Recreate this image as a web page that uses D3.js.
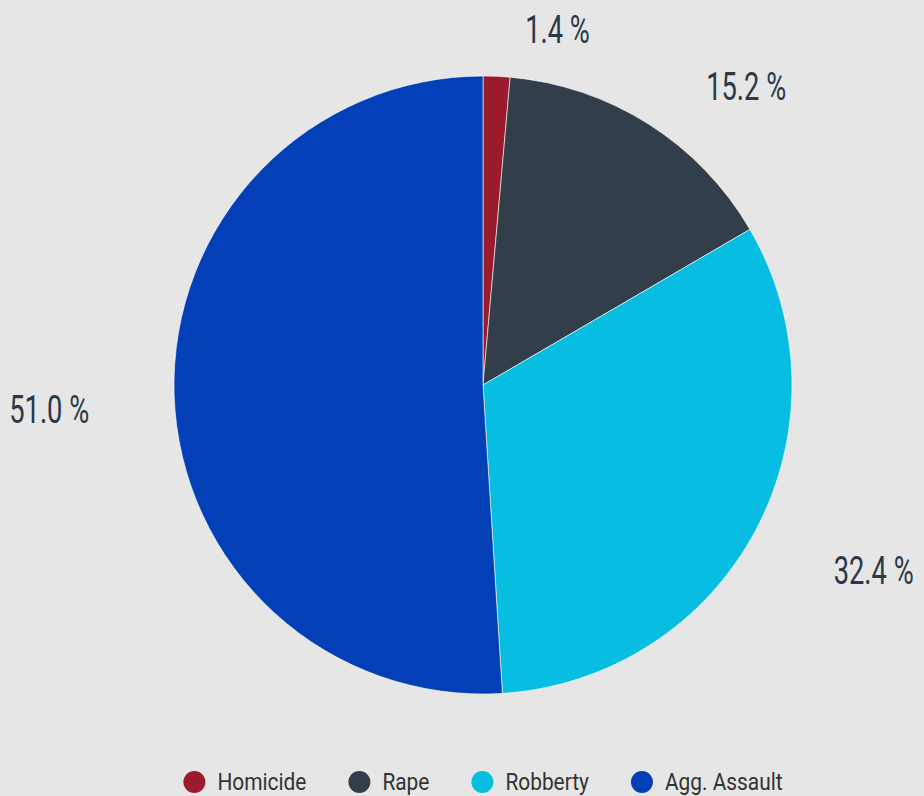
<!DOCTYPE html>
<html>
<head>
<meta charset="utf-8">
<script src="https://cdn.jsdelivr.net/npm/d3@7"></script>
<style>
  html, body { margin: 0; padding: 0; background: #e6e6e6; }
  svg { display: block; }
</style>
</head>
<body>
<svg id="chart" width="924" height="796"></svg>
<script>
const categories = ["Homicide", "Rape", "Robberty", "Agg. Assault"];
const values = [1.4, 15.2, 32.4, 51.0];
const colors = ["#9b1a2b", "#323e49", "#07bee2", "#033fb7"];

const W = 924, H = 796;
const cx = 483, cy = 385, R = 309;
const svg = d3.select("#chart");
svg.append("rect").attr("width", W).attr("height", H).attr("fill", "#e6e6e6");

const data = categories.map((c, i) => ({ name: c, value: values[i], color: colors[i] }));
const pie = d3.pie().value(d => d.value).sort(null);
const arcs = pie(data);
const arc = d3.arc().innerRadius(0).outerRadius(R);
const labelArc = d3.arc().innerRadius(368).outerRadius(368);

const g = svg.append("g").attr("transform", `translate(${cx},${cy})`);
g.selectAll("path").data(arcs).join("path")
  .attr("d", arc)
  .attr("fill", d => d.data.color)
  .attr("stroke", "#ffffff")
  .attr("stroke-width", 0.6)
  .attr("stroke-linejoin", "round");

// labels
arcs.forEach(a => {
  const [x, y] = labelArc.centroid(a);
  const mid = (a.startAngle + a.endAngle) / 2;
  const right = Math.sin(mid) >= 0;
  const lx = x + (right ? 26 : -26);
  const lg = g.append("g").attr("transform", `translate(${lx},${y + 26}) scale(0.7,1)`);
  lg.append("text")
    .attr("text-anchor", right ? "start" : "end")
    .attr("font-family", "Roboto, sans-serif")
    .attr("font-size", 39)
    .attr("font-weight", 400)
    .attr("fill", "#2b3946")
    .text(d3.format(".1f")(a.data.value) + " %");
});

// legend
const legend = svg.append("g");
const sx = 0.87, markerR = 11, gapText = 12, gapItem = 42;
const items = [];
let xPos = 0;
data.forEach(d => {
  const it = legend.append("g");
  it.append("circle").attr("r", markerR).attr("cx", markerR).attr("cy", 0).attr("fill", d.color);
  const tg = it.append("g").attr("transform", `translate(${markerR * 2 + gapText},8) scale(${sx},1)`);
  const t = tg.append("text")
    .attr("font-family", "Roboto, sans-serif")
    .attr("font-size", 24)
    .attr("fill", "#333333")
    .text(d.name);
  const w = markerR * 2 + gapText + t.node().getComputedTextLength() * sx;
  it.attr("transform", `translate(${xPos},0)`);
  xPos += w + gapItem;
});
const totalW = xPos - gapItem;
legend.attr("transform", `translate(${cx - totalW / 2},782)`);
</script>
</body>
</html>
